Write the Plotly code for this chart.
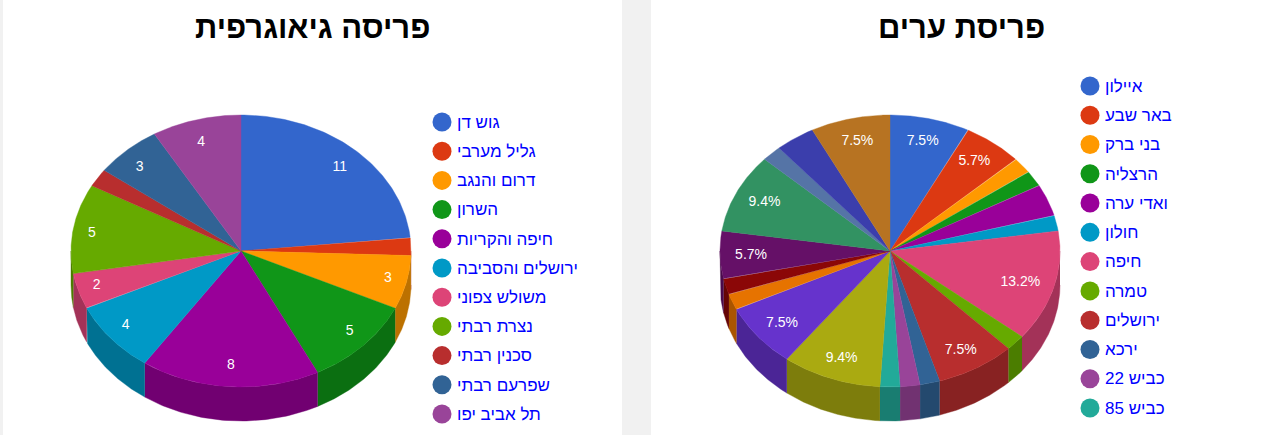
import numpy as np
import plotly.graph_objects as go

geo_title = "פריסה גיאוגרפית"
city_title = "פריסת ערים"

geo_names = ["גוש דן", "גליל מערבי", "דרום והנגב", "השרון", "חיפה והקריות",
             "ירושלים והסביבה", "משולש צפוני", "נצרת רבתי", "סכנין רבתי",
             "שפרעם רבתי", "תל אביב יפו"]
geo_values = [11, 1, 3, 5, 8, 4, 2, 5, 1, 3, 4]

city_names = ["איילון", "באר שבע", "בני ברק", "הרצליה", "ואדי ערה", "חולון",
              "חיפה", "טמרה", "ירושלים", "ירכא", "כביש 22", "כביש 85"]
city_values = [4, 3, 1, 1, 2, 1, 7, 1, 4, 1, 1, 1, 5, 4, 1, 1, 3, 5, 1, 2, 4]

palette = ["#3366cc", "#dc3912", "#ff9900", "#109618", "#990099", "#0099c6",
           "#dd4477", "#66aa00", "#b82e2e", "#316395", "#994499", "#22aa99",
           "#aaaa11", "#6633cc", "#e67300", "#8b0707", "#651067", "#329262",
           "#5574a6", "#3b3eac", "#b77322"]

W, H = 1269, 435
FONT = "Liberation Sans, Arial, sans-serif"
RX, RY, DEPTH = 170.0, 136.0, 34.0
CY = 251.0


def darker(c, f=0.74):
    r, g, b = [int(c[i:i + 2], 16) for i in (1, 3, 5)]
    return f"rgb({int(r * f)},{int(g * f)},{int(b * f)})"


def label_width(s):
    return sum(12.5 if ch == "%" else 3.9 if ch == "." else 7.8 for ch in s)


fig = go.Figure()


def add_pie(idx, names, values, cx, panel, kind, legend_x, legend_y, legend_step):
    xa, ya = f"x{idx}", f"y{idx}"
    to_x = lambda px: (px - cx) / RX
    to_y = lambda py: (CY - py) / RY
    d = DEPTH / RY
    vals = np.array(values, float)
    frac = vals / vals.sum()
    edges = np.concatenate([[0], np.cumsum(frac)]) * 2 * np.pi

    # side walls (lower half of the rim only)
    for i in range(len(vals)):
        a, b = max(edges[i], np.pi / 2), min(edges[i + 1], 3 * np.pi / 2)
        if b <= a:
            continue
        t = np.linspace(a, b, 60)
        xs = np.concatenate([np.sin(t), np.sin(t[::-1])])
        ys = np.concatenate([np.cos(t), np.cos(t[::-1]) - d])
        col = darker(palette[i])
        fig.add_trace(go.Scatter(x=xs, y=ys, xaxis=xa, yaxis=ya, mode="lines", fill="toself",
                                 fillcolor=col, line=dict(color=col, width=0.4),
                                 hoverinfo="skip", showlegend=False))
    # top faces
    for i in range(len(vals)):
        t = np.linspace(edges[i], edges[i + 1], 80)
        xs = np.concatenate([[0], np.sin(t), [0]])
        ys = np.concatenate([[0], np.cos(t), [0]])
        fig.add_trace(go.Scatter(x=xs, y=ys, xaxis=xa, yaxis=ya, mode="lines", fill="toself",
                                 fillcolor=palette[i], line=dict(color=palette[i], width=0.4),
                                 hoverinfo="skip", showlegend=False))
    # slice labels: pushed outward until the text box sits against the rim
    mid = (edges[:-1] + edges[1:]) / 2
    keep = frac >= 0.04
    labels = [(f"{v:g}" if kind == "value" else f"{p * 100:.1f}%")
              for v, p in zip(vals[keep], frac[keep])]
    widths = np.array([label_width(s) for s in labels])
    lx = (155.0 - widths / 2) / RX * np.sin(mid[keep])
    ly_lab = 114.0 / RY * np.cos(mid[keep]) - 1.0 / RY
    fig.add_trace(go.Scatter(x=lx, y=ly_lab, xaxis=xa, yaxis=ya, mode="text", text=labels,
                             textposition="middle center",
                             textfont=dict(family=FONT, size=14, color="white"),
                             hoverinfo="skip", showlegend=False))
    # legend
    ly = [to_y(legend_y + k * legend_step) for k in range(len(names))]
    ly_text = [to_y(legend_y + 1.5 + k * legend_step) for k in range(len(names))]
    fig.add_trace(go.Scatter(x=[to_x(legend_x)] * len(names), y=ly, xaxis=xa, yaxis=ya,
                             mode="markers",
                             marker=dict(size=19, color=palette[:len(names)], line=dict(width=0)),
                             hoverinfo="skip", showlegend=False))
    fig.add_trace(go.Scatter(x=[to_x(legend_x + 15)] * len(names), y=ly_text, xaxis=xa, yaxis=ya,
                             mode="text", text=names, textposition="middle right",
                             textfont=dict(family=FONT, size=17, color="#0000ff"),
                             hoverinfo="skip", showlegend=False))
    suffix = "" if idx == "" else str(idx)
    axis_common = dict(visible=False, showgrid=False, zeroline=False, fixedrange=True)
    fig.update_layout({
        f"xaxis{suffix}": dict(domain=[panel[0] / W, panel[1] / W],
                               range=[to_x(panel[0]), to_x(panel[1])],
                               anchor=f"y{suffix}", **axis_common),
        f"yaxis{suffix}": dict(domain=[0, 1], range=[to_y(H), to_y(0)],
                               anchor=f"x{suffix}", **axis_common),
    })


add_pie("", geo_names, geo_values, 241.0, (3, 622), "value", 442, 122, 29.2)
add_pie(2, city_names, city_values, 890.0, (651, 1269), "percent", 1090, 86, 29.27)

annotations = [
    dict(text=f"<b>{geo_title}</b>", x=312.5 / W, y=1 - 27 / H),
    dict(text=f"<b>{city_title}</b>", x=961 / W, y=1 - 27 / H),
]
for a in annotations:
    a.update(xref="paper", yref="paper", xanchor="center", yanchor="middle", showarrow=False,
             font=dict(family=FONT, size=31, color="black"))

fig.update_layout(width=W, height=H, margin=dict(l=0, r=0, t=0, b=0), autosize=False,
                  paper_bgcolor="#f1f1f1", plot_bgcolor="white", showlegend=False,
                  hovermode=False, annotations=annotations)

fig.write_html("out.html", config=dict(displayModeBar=False),
               post_script="document.body.style.margin='0';document.body.style.overflow='hidden';")
